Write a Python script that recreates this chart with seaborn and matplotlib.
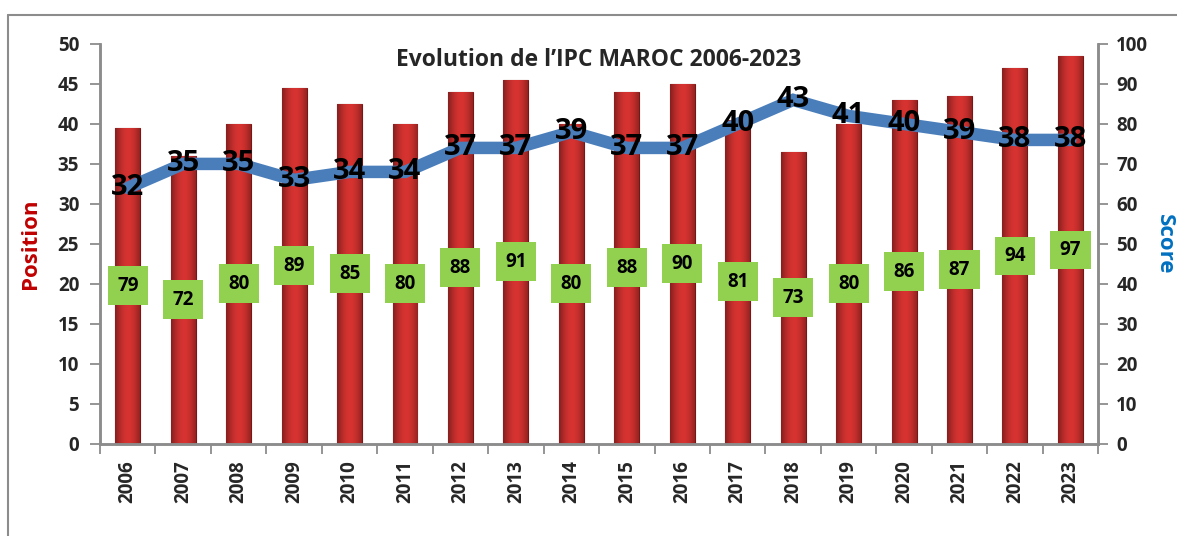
import numpy as np
import pandas as pd
import seaborn as sns
import matplotlib.pyplot as plt
from matplotlib.lines import Line2D

# données
annees = [str(a) for a in range(2006, 2024)]
position = [79, 72, 80, 89, 85, 80, 88, 91, 80, 88, 90, 81, 73, 80, 86, 87, 94, 97]
score = [32, 35, 35, 33, 34, 34, 37, 37, 39, 37, 37, 40, 43, 41, 40, 39, 38, 38]

df = pd.DataFrame({'Annee': annees, 'Position': position, 'Score': score})

sns.set_theme(style='white')
plt.rcParams['font.family'] = ['Open Sans', 'DejaVu Sans']
plt.rcParams['font.weight'] = 'bold'

fig = plt.figure(figsize=(11.77, 5.36), dpi=100)
ax1 = fig.add_axes([0.085, 0.172, 0.848, 0.746])
ax2 = ax1.twinx()

# barres (axe de droite 0-100)
sns.barplot(data=df, x='Annee', y='Position', ax=ax2, color='#c0302c',
            width=0.45, saturation=1, edgecolor='#7a1515', linewidth=0.8)

# effet cylindre
grad = np.linspace(0, 1, 64)
shade = 0.55 + 0.45 * np.sin(np.pi * (grad * 0.85 + 0.05))
base = np.array([0.84, 0.2, 0.19])
img = (base[None, :] * shade[:, None])[None, :, :]
for p in ax2.patches:
    x0, y0 = p.get_x(), p.get_y()
    w, h = p.get_width(), p.get_height()
    im = ax2.imshow(img, extent=[x0, x0 + w, y0, y0 + h], aspect='auto',
                    zorder=p.get_zorder(), interpolation='bicubic')
    im.set_clip_path(p)

# courbe (axe de gauche 0-50)
sns.lineplot(x=df.index, y=df['Score'], ax=ax1, color='#4a7ebb', linewidth=9,
             solid_joinstyle='miter')

ax1.set_zorder(ax2.get_zorder() + 1)
ax1.patch.set_visible(False)

for i, v in enumerate(score):
    ax1.text(i, v, str(v), ha='center', va='center', fontsize=21,
             fontweight='bold', color='black')

for i, v in enumerate(position):
    ax2.text(i, v / 2, str(v), ha='center', va='center', fontsize=13.5,
             fontweight='bold', color='black', zorder=5,
             bbox=dict(boxstyle='square,pad=0.5', facecolor='#92d050',
                       edgecolor='none'))

ax1.set_xlim(-0.5, len(annees) - 0.5)
ax1.set_ylim(0, 50)
ax2.set_ylim(0, 100)
ax1.set_yticks(range(0, 51, 5))
ax2.set_yticks(range(0, 101, 10))

ax1.set_xticks(range(len(annees)))
ax1.set_xticklabels(annees, rotation=90, fontsize=13.5, fontweight='bold')
ax1.set_xticks(np.arange(-0.5, len(annees), 1), minor=True)
ax1.tick_params(axis='x', which='major', length=0, pad=12)
ax1.tick_params(axis='x', which='minor', length=7, color='#8c8c8c', width=1.3,
                direction='out', bottom=True)
ax1.tick_params(axis='y', length=7, color='#8c8c8c', width=1.3,
                direction='out', left=True, labelsize=13.5, pad=8)
ax2.tick_params(axis='y', length=7, color='#8c8c8c', width=1.3,
                direction='out', right=True, labelsize=13.5, pad=6)
for t in ax1.get_yticklabels() + ax2.get_yticklabels():
    t.set_fontweight('bold')
ax2.set_xlabel('')
ax1.set_xlabel('')

for ax in (ax1, ax2):
    ax.spines['top'].set_visible(False)
    for s in ('left', 'right', 'bottom'):
        ax.spines[s].set_color('#8c8c8c')
        ax.spines[s].set_linewidth(1.8)

ax1.set_ylabel('Position', color='#c00000', fontsize=16, fontweight='bold',
               va='center')
ax2.set_ylabel('Score', color='#0070c0', fontsize=16, fontweight='bold',
               rotation=270, va='center')
ax1.yaxis.set_label_coords(-0.07, 0.5)
ax2.yaxis.set_label_coords(1.066, 0.5)

ax1.text(0.5, 0.99, "Evolution de l\u2019IPC MAROC 2006-2023", transform=ax1.transAxes,
         ha='center', va='top', fontsize=16.5, fontweight='bold')

# cadre extérieur
fig.add_artist(Line2D([8 / 1177, 1.0], [1 - 15 / 536, 1 - 15 / 536],
                      color='#8c8c8c', linewidth=1.5))
fig.add_artist(Line2D([8 / 1177, 8 / 1177], [0, 1 - 15 / 536],
                      color='#8c8c8c', linewidth=1.5))

fig.savefig('out.png', dpi=100)
